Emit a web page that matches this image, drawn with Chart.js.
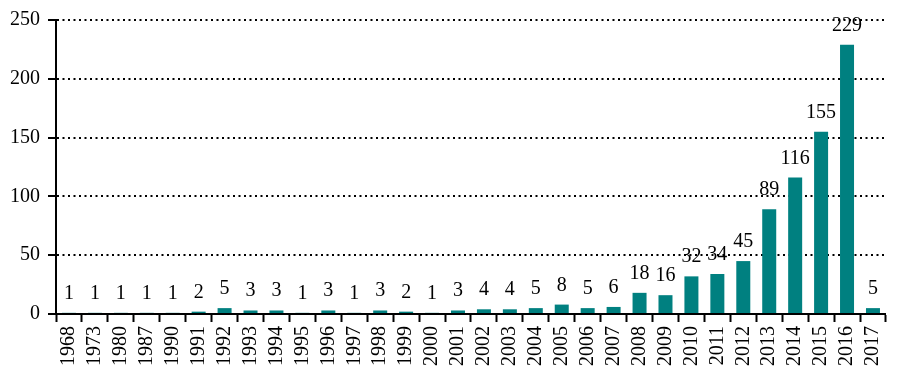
<!DOCTYPE html>
<html>
<head>
<meta charset="utf-8">
<script src="https://cdn.jsdelivr.net/npm/chart.js@4"></script>
<style>
  html, body { margin: 0; padding: 0; background: #fff; }
  #wrap { width: 901px; height: 371px; }
</style>
</head>
<body>
<div id="wrap"><canvas id="myChart" width="901" height="371"></canvas></div>
<script>
const years = ['1968', '1973', '1980', '1987', '1990', '1991', '1992', '1993', '1994', '1995',
  '1996', '1997', '1998', '1999', '2000', '2001', '2002', '2003', '2004', '2005',
  '2006', '2007', '2008', '2009', '2010', '2011', '2012', '2013', '2014', '2015',
  '2016', '2017'];
const counts = [1, 1, 1, 1, 1, 2, 5, 3, 3, 1,
  3, 1, 3, 2, 1, 3, 4, 4, 5, 8,
  5, 6, 18, 16, 32, 34, 45, 89, 116, 155,
  229, 5];
const yTicks = [0, 50, 100, 150, 200, 250];

const serif = "'Liberation Serif', 'Times New Roman', serif";

// value labels above each bar
const barLabels = {
  id: 'barLabels',
  afterDatasetsDraw(chart) {
    const ctx = chart.ctx;
    const meta = chart.getDatasetMeta(0);
    ctx.save();
    ctx.font = '20px ' + serif;
    ctx.fillStyle = '#000';
    ctx.textAlign = 'center';
    ctx.textBaseline = 'alphabetic';
    meta.data.forEach((bar, i) => {
      ctx.fillText(String(counts[i]), bar.x, bar.y - 14);
    });
    ctx.restore();
  }
};

const ctx = document.getElementById('myChart').getContext('2d');
new Chart(ctx, {
  type: 'bar',
  data: {
    labels: years,
    datasets: [{
      data: counts,
      backgroundColor: '#008080',
      borderWidth: 0,
      barPercentage: 0.54,
      categoryPercentage: 1
    }]
  },
  options: {
    responsive: false,
    animation: false,
    layout: { padding: { top: 19, right: 2, left: 0, bottom: 0 } },
    plugins: { legend: { display: false }, tooltip: { enabled: false } },
    scales: {
      x: {
        offset: true,
        grid: {
          offset: true,
          drawOnChartArea: false,
          drawTicks: true,
          tickLength: 8,
          tickWidth: 2,
          tickColor: '#000'
        },
        border: { display: true, color: '#000', width: 2 },
        ticks: {
          color: '#000',
          font: { family: serif, size: 20 },
          minRotation: 90,
          maxRotation: 90,
          autoSkip: false,
          padding: 4
        },
        afterFit(scale) { scale.height = 57; }
      },
      y: {
        min: 0,
        max: 250,
        afterBuildTicks(scale) { scale.ticks = yTicks.map(v => ({ value: v })); },
        grid: {
          color: '#000',
          lineWidth: 2,
          tickLength: 8,
          tickWidth: 2,
          tickColor: '#000',
          tickBorderDash: []
        },
        border: { display: true, color: '#000', width: 2, dash: [2, 3.5] },
        ticks: {
          color: '#000',
          font: { family: serif, size: 20 },
          padding: 8
        },
        afterFit(scale) { scale.width = 56; }
      }
    }
  },
  plugins: [barLabels]
});
</script>
</body>
</html>
